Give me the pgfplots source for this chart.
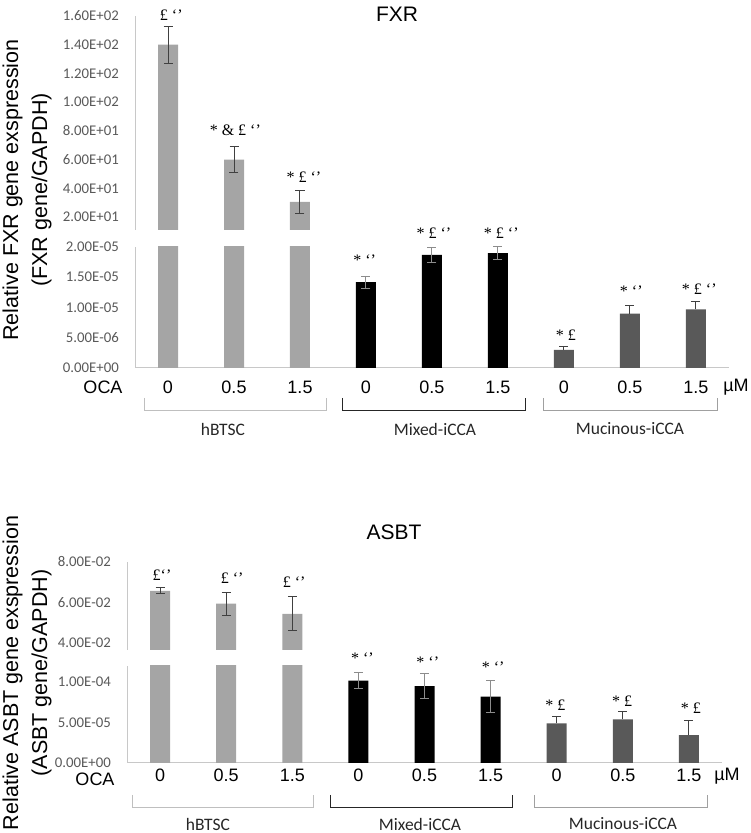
\documentclass[border=0pt]{standalone}
\usepackage{fontspec}
\setmainfont{Liberation Sans}
\newfontfamily\calfont{Carlito}
\newfontfamily\serfont{Liberation Serif}
\usepackage{pgfplots}
\pgfplotsset{compat=1.18}
\definecolor{barA}{HTML}{A5A5A5}
\definecolor{barC}{HTML}{595959}
\definecolor{axgray}{HTML}{C8C8C8}
\definecolor{tickgray}{HTML}{595959}
\definecolor{errA}{HTML}{404040}
\definecolor{errB}{HTML}{8C8C8C}
\definecolor{brkA}{HTML}{BFBFBF}
\definecolor{brkB}{HTML}{262626}
\definecolor{brkC}{HTML}{A0A0A0}
\definecolor{grplab}{HTML}{262626}

\pgfplotsset{
  base/.style={scale only axis, width=594pt, xmin=-0.5, xmax=8.5, enlargelimits=false,
     scaled y ticks=false, scaled x ticks=false,
     axis y line*=left, y axis line style={draw=axgray, line width=1pt},
     major tick length=0pt,
     yticklabel style={font=\calfont\fontsize{14.8}{16}\selectfont, text=tickgray, anchor=east, inner sep=0pt, xshift=-16pt}},
  ovl/.style={scale only axis, width=594pt, xmin=-0.5, xmax=8.5, enlargelimits=false,
     axis lines=none, clip=false, xtick=\empty, ytick=\empty},
  xlab/.style={axis x line*=bottom, x axis line style={draw=axgray, line width=1pt},
     xtick={0,1,2,3,4,5,6,7,8}, xticklabels={0,0.5,1.5,0,0.5,1.5,0,0.5,1.5},
     xticklabel style={font=\fontsize{18}{20}\selectfont, text=black, anchor=north, inner sep=0pt, yshift=#1}},
  annot/.style={draw=none, mark=none, nodes near coords, point meta=explicit symbolic,
     every node near coord/.append style={anchor=center, text=black, font=\serfont\fontsize{16}{18}\selectfont, inner sep=0pt}},
  ebar/.style 2 args={/pgfplots/error bars/y dir=#1, /pgfplots/error bars/y explicit,
     /pgfplots/error bars/error bar style={draw=#2, line width=1pt},
     /pgfplots/error bars/error mark options={rotate=90, draw=#2, line width=1pt, mark size=4.5pt}},
  bar/.style={ybar, bar width=20pt, bar shift=0pt, fill=#1, draw=none},
}

\begin{document}
\begin{tikzpicture}[x=1pt,y=1pt]
\path[use as bounding box] (0pt,0pt) rectangle (750pt,833pt);

% ================= FXR =================
\begin{axis}[base, at={(135pt,603pt)}, anchor=south west, height=214pt,
  ymin=10.95, ymax=160, axis x line=none,
  ytick={20,40,60,80,100,120,140,160},
  yticklabels={2.00E+01,4.00E+01,6.00E+01,8.00E+01,1.00E+02,1.20E+02,1.40E+02,1.60E+02}]
\addplot[bar=barA, ebar={both}{errA}] coordinates {(0,140) +- (0,13) (1,60) +- (0,9) (2,30.5) +- (0,8)};
\end{axis}
\begin{axis}[ovl, at={(135pt,603pt)}, anchor=south west, height=214pt, ymin=10.95, ymax=160]
\addplot[annot] coordinates {(0.05,160.7) [{£ ‘’}] (1.02,80.6) [{* \& £ ‘’}] (2.06,47.9) [{* £ ‘’}]};
\end{axis}

\begin{axis}[base, xlab=-12.5pt, at={(135pt,465pt)}, anchor=south west, height=121pt,
  ymin=0, ymax=2e-5,
  ytick={0,5e-6,1e-5,1.5e-5,2e-5},
  yticklabels={0.00E+00,5.00E-06,1.00E-05,1.50E-05,2.00E-05}]
\addplot[bar=barA, restrict y to domain*=0:3e-5] coordinates {(0,140) (1,60) (2,30.5)};
\addplot[bar=black, ebar={both}{errB}] coordinates {(3,1.42e-5) +- (0,0.1e-5) (4,1.87e-5) +- (0,0.12e-5) (5,1.9e-5) +- (0,0.1e-5)};
\addplot[bar=barC, ebar={plus}{errA}] coordinates {(6,3.0e-6) +- (0,0.5e-6) (7,9.0e-6) +- (0,1.4e-6) (8,9.7e-6) +- (0,1.3e-6)};
\end{axis}
\begin{axis}[ovl, at={(135pt,465pt)}, anchor=south west, height=121pt, ymin=0, ymax=2e-5]
\addplot[annot] coordinates {(2.98,1.785e-5) [{* ‘’}] (4.03,2.231e-5) [{* £ ‘’}] (5.05,2.231e-5) [{* £ ‘’}]
  (6.03,0.545e-5) [{* £}] (7.02,1.273e-5) [{* ‘’}] (8.05,1.306e-5) [{* £ ‘’}]};
\end{axis}

\node[font=\fontsize{21}{24}\selectfont] at (397pt,819pt) {FXR};
\node[rotate=90, anchor=base, font=\fontsize{21.5}{24}\selectfont] at (18pt,643pt) {Relative FXR gene  exspression};
\node[rotate=90, anchor=base, font=\fontsize{21.5}{24}\selectfont] at (47pt,643pt) {(FXR gene/GAPDH)};
\node[font=\fontsize{18}{20}\selectfont] at (103pt,446pt) {OCA};
\node[font=\fontsize{18}{20}\selectfont] at (736pt,446pt) {µM};
\draw[brkA, line width=1pt] (144pt,435pt)--(144pt,422pt)--(326pt,422pt)--(326pt,435pt);
\draw[brkB, line width=1pt] (342pt,435pt)--(342pt,422pt)--(525pt,422pt)--(525pt,435pt);
\draw[brkC, line width=1pt] (543pt,435pt)--(543pt,422pt)--(717pt,422pt)--(717pt,435pt);
\node[font=\calfont\fontsize{17.5}{20}\selectfont, text=grplab] at (223pt,404pt) {hBTSC};
\node[font=\calfont\fontsize{17.5}{20}\selectfont, text=grplab] at (435pt,404pt) {Mixed-iCCA};
\node[font=\calfont\fontsize{17.5}{20}\selectfont, text=grplab] at (630pt,404pt) {Mucinous-iCCA};

% ================= ASBT =================
\begin{axis}[base, at={(127pt,183pt)}, anchor=south west, width=595pt, height=88pt,
  ymin=0.0363, ymax=0.08, axis x line=none,
  ytick={0.04,0.06,0.08},
  yticklabels={4.00E-02,6.00E-02,8.00E-02}]
\addplot[bar=barA, ebar={both}{errA}] coordinates {(0,0.0657) +- (0,0.0015) (1,0.0593) +- (0,0.0057) (2,0.0543) +- (0,0.0085)};
\end{axis}
\begin{axis}[ovl, at={(127pt,183pt)}, anchor=south west, width=595pt, height=88pt, ymin=0.0363, ymax=0.08]
\addplot[annot] coordinates {(0.03,0.0736) [{£‘’}] (1.09,0.0721) [{£ ‘’}] (2.03,0.0701) [{£ ‘’}]};
\end{axis}

\begin{axis}[base, xlab=-6pt, at={(127pt,70pt)}, anchor=south west, width=595pt, height=97pt,
  ymin=0, ymax=1.2e-4,
  ytick={0,5e-5,1e-4},
  yticklabels={0.00E+00,5.00E-05,1.00E-04}]
\addplot[bar=barA, restrict y to domain*=0:2e-4] coordinates {(0,0.0657) (1,0.0593) (2,0.0543)};
\addplot[bar=black, ebar={both}{errB}] coordinates {(3,1.02e-4) +- (0,0.095e-4) (4,0.95e-4) +- (0,0.155e-4) (5,0.82e-4) +- (0,0.195e-4)};
\addplot[bar=barC, ebar={plus}{errA}] coordinates {(6,4.9e-5) +- (0,0.9e-5) (7,5.4e-5) +- (0,1.0e-5) (8,3.45e-5) +- (0,1.85e-5)};
\end{axis}
\begin{axis}[ovl, at={(127pt,70pt)}, anchor=south west, width=595pt, height=97pt, ymin=0, ymax=1.2e-4]
\addplot[annot] coordinates {(3.06,1.293e-4) [{* ‘’}] (4.05,1.244e-4) [{* ‘’}] (5.04,1.182e-4) [{* ‘’}]
  (5.98,7.14e-5) [{* £}] (6.99,7.64e-5) [{* £}] (8.03,6.77e-5) [{* £}]};
\end{axis}

\node[font=\fontsize{21}{24}\selectfont] at (394pt,301pt) {ASBT};
\node[rotate=90, anchor=base, font=\fontsize{21.5}{24}\selectfont] at (18pt,160pt) {Relative ASBT gene  exspression};
\node[rotate=90, anchor=base, font=\fontsize{21.5}{24}\selectfont] at (47pt,160pt) {(ASBT gene/GAPDH)};
\node[font=\fontsize{18}{20}\selectfont, inner sep=0pt] at (95pt,54pt) {OCA};
\node[font=\fontsize{18}{20}\selectfont] at (727pt,57pt) {µM};
\draw[brkA, line width=1pt] (132pt,38pt)--(132pt,25pt)--(313pt,25pt)--(313pt,38pt);
\draw[brkB, line width=1pt] (330pt,38pt)--(330pt,25pt)--(512pt,25pt)--(512pt,38pt);
\draw[brkC, line width=1pt] (534pt,38pt)--(534pt,25pt)--(707pt,25pt)--(707pt,38pt);
\node[font=\calfont\fontsize{17.5}{20}\selectfont, text=grplab] at (208pt,9pt) {hBTSC};
\node[font=\calfont\fontsize{17.5}{20}\selectfont, text=grplab] at (420pt,9pt) {Mixed-iCCA};
\node[font=\calfont\fontsize{17.5}{20}\selectfont, text=grplab] at (623pt,9pt) {Mucinous-iCCA};
\end{tikzpicture}
\end{document}
